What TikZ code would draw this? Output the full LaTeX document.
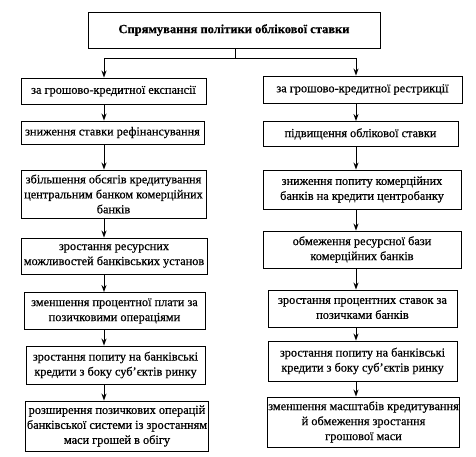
\documentclass[tikz,border=0pt]{standalone}
\usepackage{fontspec}
\setmainfont{Liberation Serif}[FakeBold=0.5]
\usetikzlibrary{arrows.meta}
\begin{document}
\begin{tikzpicture}[x=1pt,y=-1pt,
  box/.style={draw, line width=0.9pt, inner sep=1pt, align=center,
    font=\fontsize{12.3}{15}\selectfont},
  arr/.style={line width=1pt, -{Stealth[length=7pt,width=5pt]}}]
\useasboundingbox[fill=white] (0,0) rectangle (476,456);
% title
\node[box, minimum width=292pt, minimum height=36pt, font=\bfseries\fontsize{12.5}{15}\selectfont] (T) at (234,30) {Спрямування політики облікової ставки};
% left column
\node[box, minimum width=185pt, minimum height=26pt] (L1) at (113.5,91) {за грошово-кредитної експансії};
\node[box, minimum width=183pt, minimum height=23pt] (L2) at (112.5,132.5) {зниження ставки рефінансування};
\node[box, minimum width=185pt, minimum height=48pt] (L3) at (113.5,194) {збільшення обсягів кредитування\\центральним банком комерційних\\банків};
\node[box, minimum width=186pt, minimum height=36pt] (L4) at (114,256) {зростання ресурсних\\можливостей банківських установ};
\node[box, minimum width=181pt, minimum height=37pt] (L5) at (114.5,311) {зменшення процентної плати за\\позичковими операціями};
\node[box, minimum width=179pt, minimum height=38pt] (L6) at (115.5,365) {зростання попиту на банківські\\кредити з боку суб’єктів ринку};
\node[box, minimum width=182pt, minimum height=50pt] (L7) at (117,426) {розширення позичкових операцій\\банківської системи із зростанням\\маси грошей в обігу};
% right column
\node[box, minimum width=199pt, minimum height=27pt] (R1) at (362.5,89.5) {за грошово-кредитної рестрикції};
\node[box, minimum width=195pt, minimum height=25pt] (R2) at (360.5,134) {підвищення облікової ставки};
\node[box, minimum width=198pt, minimum height=39pt] (R3) at (362,189.5) {зниження попиту комерційних\\банків на кредити центробанку};
\node[box, minimum width=198pt, minimum height=37pt] (R4) at (362,249.5) {обмеження ресурсної бази\\комерційних банків};
\node[box, minimum width=189pt, minimum height=37pt] (R5) at (362.5,308.5) {зростання процентних ставок за\\позичками банків};
\node[box, minimum width=189pt, minimum height=40pt] (R6) at (362.5,361) {зростання попиту на банківські\\кредити з боку суб’єктів ринку};
\node[box, minimum width=187pt, minimum height=50pt] (R7) at (363.5,422) {зменшення масштабів кредитування\\й обмеження зростання\\грошової маси};
% connectors
\coordinate (j) at (235,58);
\coordinate (xl) at (104,0);
\coordinate (xr) at (356,0);
\draw[line width=1pt] (T.south -| j) -- (j);
\draw[arr] (j) -| (L1.north -| xl);
\draw[arr] (j) -| (R1.north -| xr);
\foreach \a/\b in {L1/L2,L2/L3,L3/L4,L4/L5,L5/L6,L6/L7}
  \draw[arr] (\a.south -| xl) -- (\b.north -| xl);
\foreach \a/\b in {R1/R2,R2/R3,R3/R4,R4/R5,R5/R6,R6/R7}
  \draw[arr] (\a.south -| xr) -- (\b.north -| xr);
\end{tikzpicture}
\end{document}
